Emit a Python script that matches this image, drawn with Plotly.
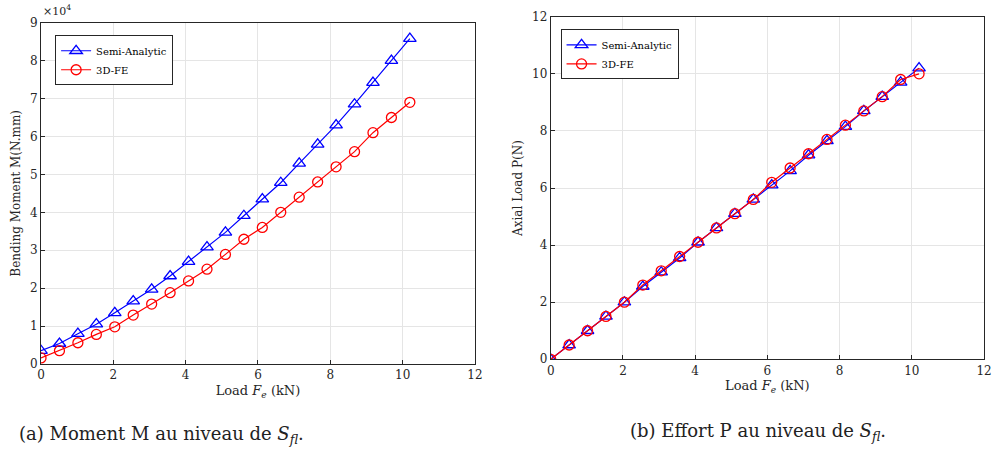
import plotly.graph_objects as go

# load steps (kN), shared by both panels
load = [0, 0.51, 1.02, 1.53, 2.04, 2.55, 3.06, 3.57, 4.08, 4.59, 5.1,
        5.61, 6.12, 6.63, 7.14, 7.65, 8.16, 8.67, 9.18, 9.69, 10.2]

# (a) bending moment, N.mm
moment_semi = [3500, 5400, 8000, 10500, 13500, 16600, 19700, 23200, 27000, 30800, 34700,
               39100, 43500, 47800, 52900, 57900, 63000, 68500, 74200, 80000, 85800]
moment_fe = [1600, 3500, 5600, 7800, 9800, 12900, 15800, 18800, 21900, 25000, 28900,
             32900, 36000, 40000, 44000, 48000, 52000, 56000, 61000, 65000, 69000]

# (b) axial load, N
axial_semi = [0, 0.5, 1.0, 1.5, 2.0, 2.55, 3.05, 3.55, 4.1, 4.6, 5.1,
              5.6, 6.1, 6.6, 7.15, 7.65, 8.15, 8.7, 9.2, 9.7, 10.2]
axial_fe = [0, 0.5, 1.0, 1.5, 2.0, 2.6, 3.1, 3.6, 4.1, 4.6, 5.1,
            5.6, 6.2, 6.7, 7.2, 7.7, 8.2, 8.7, 9.2, 9.8, 10.0]

x_ticks = [0, 2, 4, 6, 8, 10, 12]
m_ticks = [0, 1, 2, 3, 4, 5, 6, 7, 8, 9]
p_ticks = [0, 2, 4, 6, 8, 10, 12]

FONT = 'DejaVu Serif, Liberation Serif, serif'
AX = '#262626'
GRID = '#e5e5e5'

fig = go.Figure()

# left panel (scaled by 1e4 like matlab does)
fig.add_trace(go.Scatter(x=load, y=[v / 1e4 for v in moment_semi], mode='lines+markers',
                         name='Semi-Analytic', xaxis='x', yaxis='y', legend='legend',
                         line=dict(color='#0000ff', width=1.2),
                         marker=dict(symbol='triangle-up-open', size=11, color='#0000ff',
                                     line=dict(width=1.3))))
fig.add_trace(go.Scatter(x=load, y=[v / 1e4 for v in moment_fe], mode='lines+markers',
                         name='3D-FE', xaxis='x', yaxis='y', legend='legend',
                         line=dict(color='#ff0000', width=1.2),
                         marker=dict(symbol='circle-open', size=10, color='#ff0000',
                                     line=dict(width=1.3))))

# right panel
fig.add_trace(go.Scatter(x=load, y=axial_semi, mode='lines+markers',
                         name='Semi-Analytic', xaxis='x2', yaxis='y2', legend='legend2',
                         line=dict(color='#0000ff', width=1.2),
                         marker=dict(symbol='triangle-up-open', size=11, color='#0000ff',
                                     line=dict(width=1.3))))
fig.add_trace(go.Scatter(x=load, y=axial_fe, mode='lines+markers',
                         name='3D-FE', xaxis='x2', yaxis='y2', legend='legend2',
                         line=dict(color='#ff0000', width=1.2),
                         marker=dict(symbol='circle-open', size=10, color='#ff0000',
                                     line=dict(width=1.3))))

axis_style = dict(showgrid=True, gridcolor=GRID, gridwidth=1, zeroline=False,
                  showline=True, linecolor=AX, linewidth=1, mirror=True, automargin=False,
                  ticks='inside', ticklen=4, tickcolor=AX, ticklabeloverflow='allow',
                  tickfont=dict(family=FONT, size=12, color=AX))

xtitle = dict(text='Load <i>F<sub>e</sub></i> (kN)', font=dict(family=FONT, size=13, color=AX),
              standoff=4)

fig.update_layout(
    width=993, height=452,
    margin=dict(l=0, r=0, t=0, b=0, autoexpand=False),
    paper_bgcolor='white', plot_bgcolor='white',
    font=dict(family=FONT, color=AX),
    xaxis=dict(domain=[0.0413, 0.4783], range=[0, 12], tickvals=x_ticks,
               title=xtitle, anchor='y', **axis_style),
    yaxis=dict(domain=[0.1947, 0.9498], range=[0, 9], tickvals=m_ticks,
               title=dict(text='Bending Moment M(N.mm)', font=dict(family=FONT, size=12, color=AX),
                          standoff=6),
               anchor='x', **axis_style),
    xaxis2=dict(domain=[0.5546, 0.991], range=[0, 12], tickvals=x_ticks,
                title=xtitle, anchor='y2', **axis_style),
    yaxis2=dict(domain=[0.2051, 0.963], range=[0, 12], tickvals=p_ticks,
                title=dict(text='Axial Load P(N)', font=dict(family=FONT, size=12, color=AX),
                           standoff=6),
                anchor='x2', **axis_style),
    legend=dict(x=0.0555, y=0.922, xanchor='left', yanchor='top',
                bgcolor='white', bordercolor=AX, borderwidth=1,
                font=dict(family=FONT, size=10, color='black'),
                tracegroupgap=0, itemwidth=30),
    legend2=dict(x=0.5645, y=0.935, xanchor='left', yanchor='top',
                 bgcolor='white', bordercolor=AX, borderwidth=1,
                 font=dict(family=FONT, size=10, color='black'),
                 tracegroupgap=0, itemwidth=30),
    showlegend=True,
)

# exponent label and captions
fig.add_annotation(text='\u00d710<sup>4</sup>', xref='paper', yref='paper',
                   x=0.0413, y=0.955, xanchor='left', yanchor='bottom', showarrow=False,
                   font=dict(family=FONT, size=11, color=AX))
fig.add_annotation(text='(a) Moment M au niveau de <i>S<sub>fl</sub></i>.', xref='paper', yref='paper',
                   x=0.017, y=0.038, xanchor='left', yanchor='middle', showarrow=False,
                   font=dict(family=FONT, size=18, color='#222222'))
fig.add_annotation(text='(b) Effort P au niveau de <i>S<sub>fl</sub></i>.', xref='paper', yref='paper',
                   x=0.632, y=0.045, xanchor='left', yanchor='middle', showarrow=False,
                   font=dict(family=FONT, size=18, color='#222222'))

# body margin would shift the figure off the window
fig.write_html('out.html', config={'displayModeBar': False},
               post_script="document.body.style.margin='0';")
